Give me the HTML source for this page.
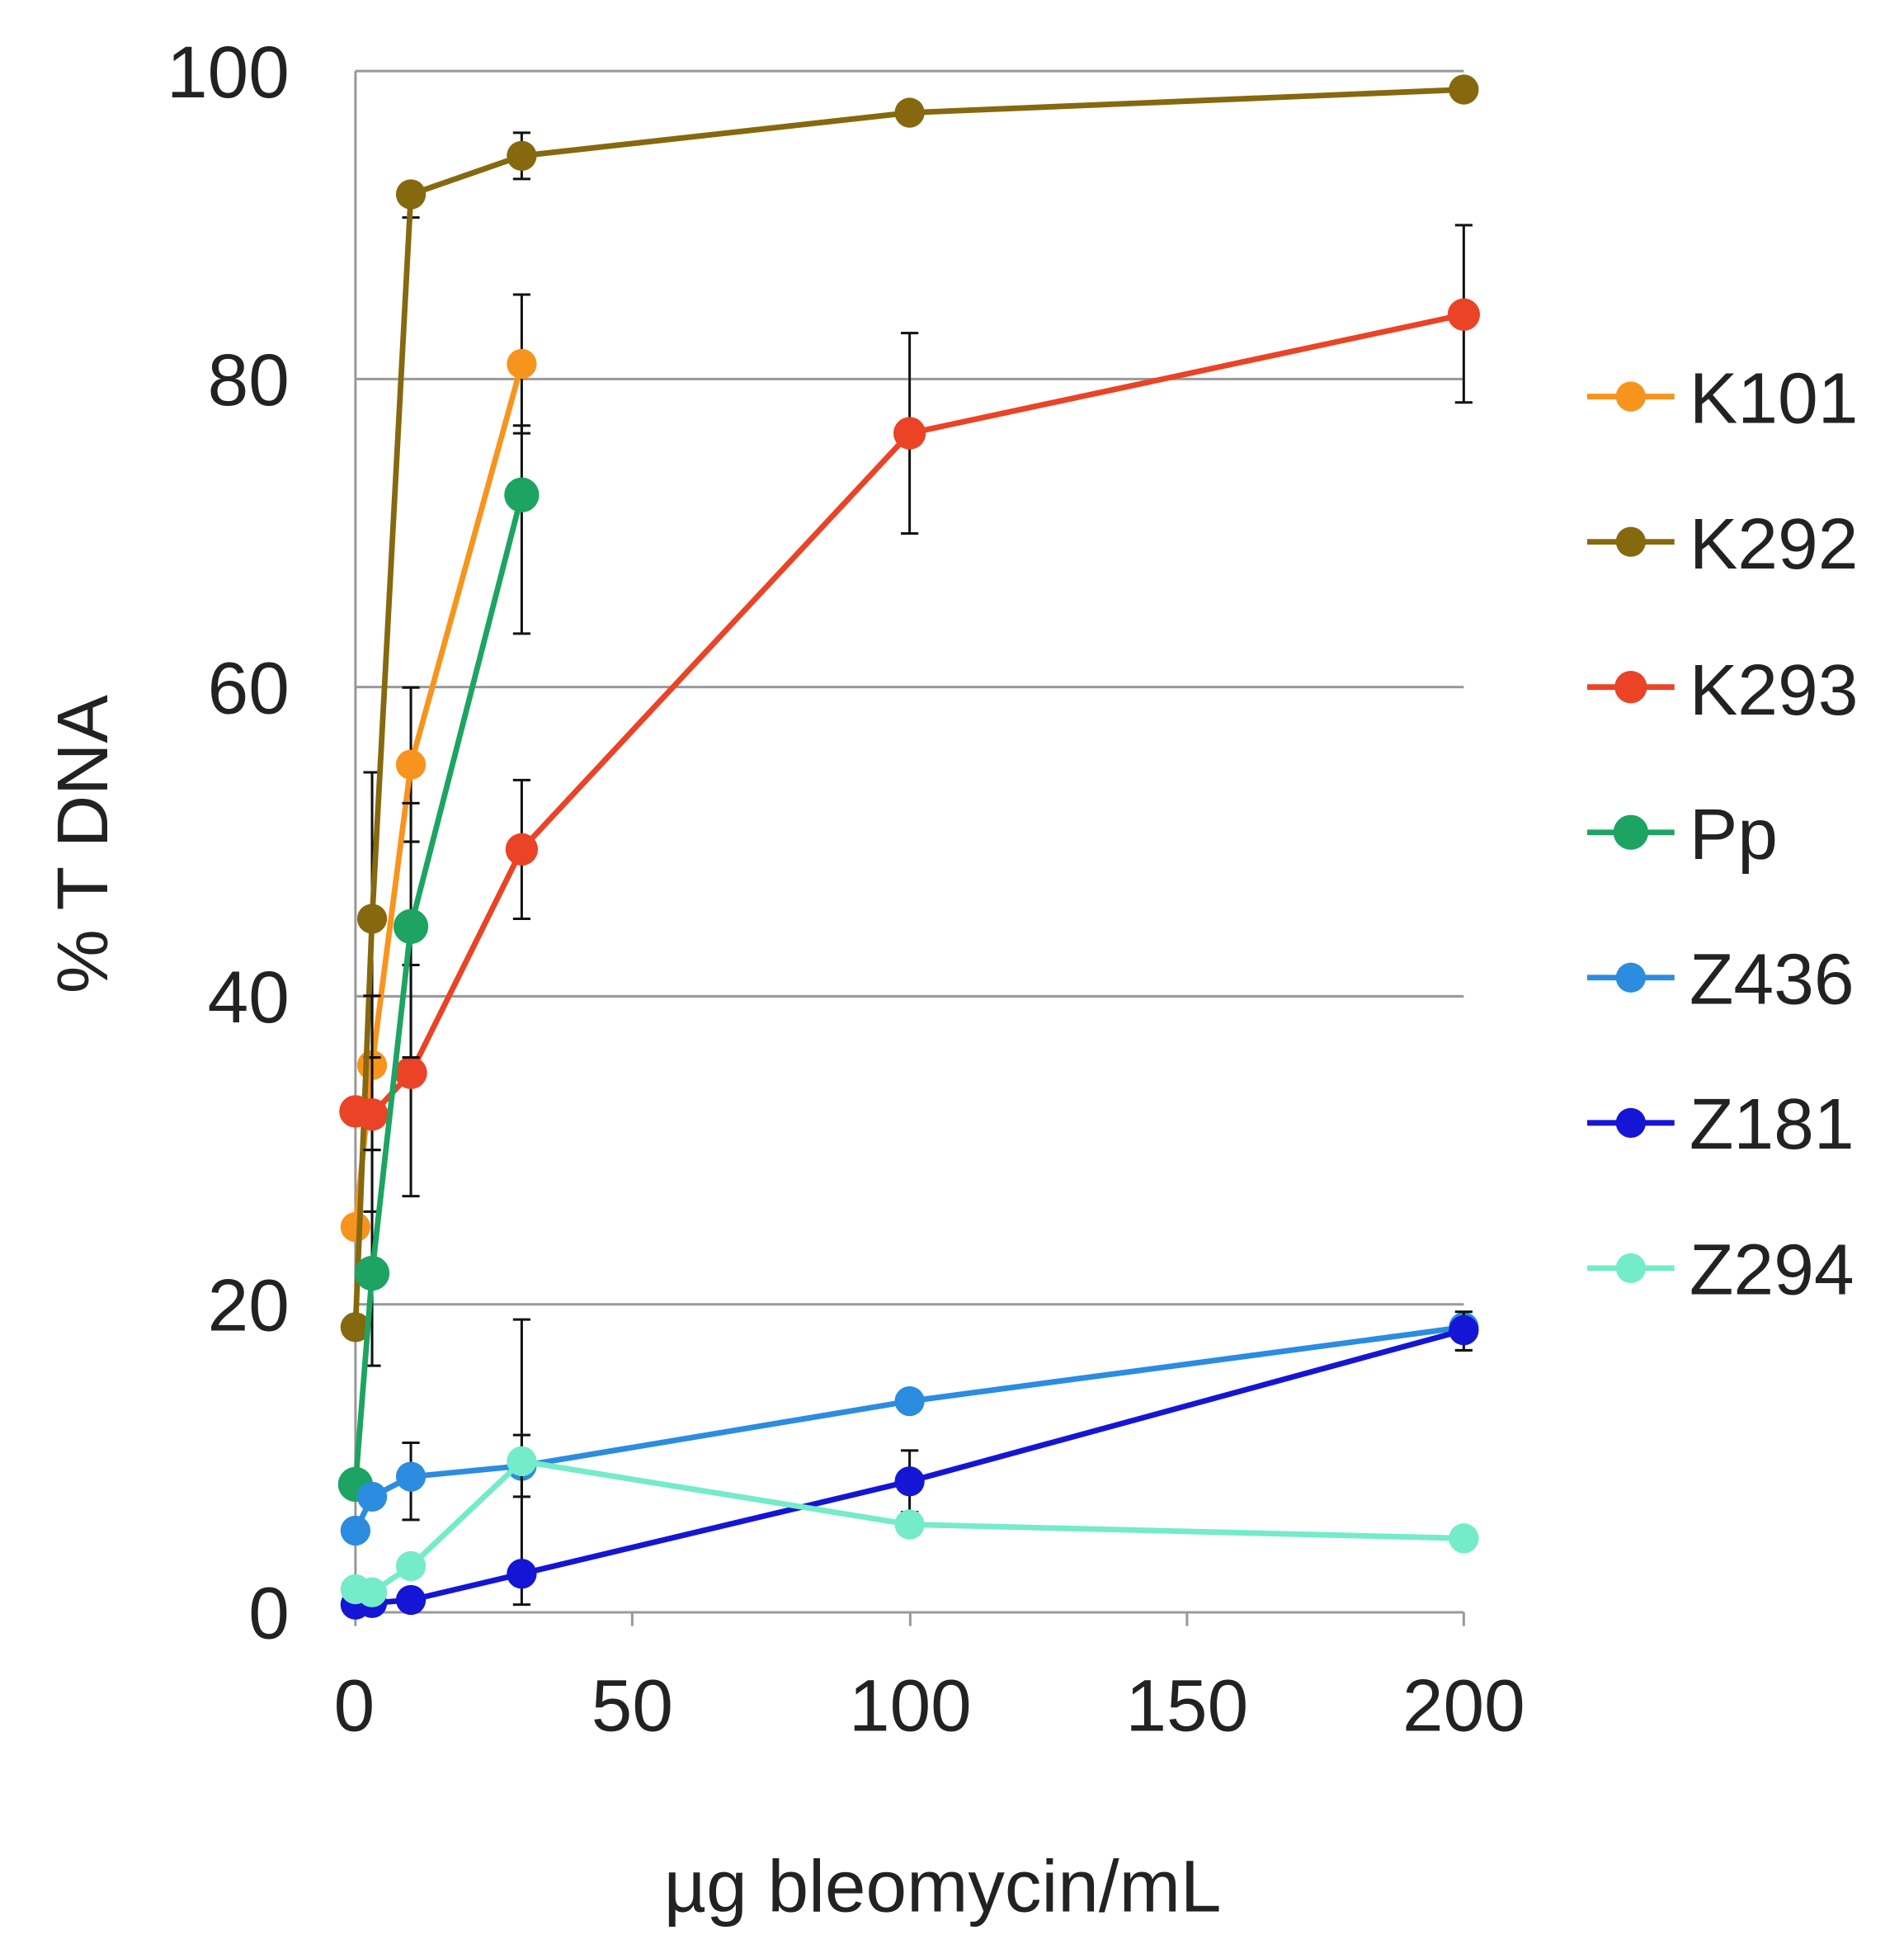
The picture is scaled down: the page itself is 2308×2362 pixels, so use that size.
<!DOCTYPE html>
<html><head><meta charset="utf-8"><style>
html,body{margin:0;padding:0;background:#fff;}
svg{display:block;}
text{font-family:"Liberation Sans",Arial,sans-serif;fill:#222;}
</style></head><body>
<svg id="s" width="2308" height="2362" viewBox="0 0 1527 1563" xmlns="http://www.w3.org/2000/svg">
<g stroke="#999" stroke-width="2">
<line x1="285" y1="57" x2="1174" y2="57"/>
<line x1="285" y1="304" x2="1174" y2="304"/>
<line x1="285" y1="551" x2="1174" y2="551"/>
<line x1="285" y1="799" x2="1174" y2="799"/>
<line x1="285" y1="1046" x2="1174" y2="1046"/>
<line x1="285" y1="1293" x2="1174" y2="1293"/>
<line x1="285" y1="57" x2="285" y2="1293"/>
<line x1="285" y1="1293" x2="285" y2="1304"/>
<line x1="507" y1="1293" x2="507" y2="1304"/>
<line x1="730" y1="1293" x2="730" y2="1304"/>
<line x1="952" y1="1293" x2="952" y2="1304"/>
<line x1="1174" y1="1293" x2="1174" y2="1304"/>
</g>
<g font-size="59" text-anchor="end">
<text x="232" y="78">100</text>
<text x="232" y="325">80</text>
<text x="232" y="572">60</text>
<text x="232" y="820">40</text>
<text x="232" y="1067">20</text>
<text x="232" y="1314">0</text>
</g>
<g font-size="59" text-anchor="middle">
<text x="284" y="1388">0</text>
<text x="507" y="1388">50</text>
<text x="730" y="1388">100</text>
<text x="952" y="1388">150</text>
<text x="1174" y="1388">200</text>
<text x="756" y="1533">µg bleomycin/mL</text>
<text transform="translate(86,677) rotate(-90)" font-size="58">% T DNA</text>
</g>
<g id="data"></g>
<g font-size="58">
<text x="1355" y="339">K101</text>
<text x="1355" y="456">K292</text>
<text x="1355" y="573">K293</text>
<text x="1355" y="689">Pp</text>
<text x="1355" y="805">Z436</text>
<text x="1355" y="921">Z181</text>
<text x="1355" y="1038">Z294</text>
</g>
<g id="leg"></g>
</svg>
<script>
const X=v=>285+v*4.445, Y=v=>1293-v*12.36;
const S=[
 {c:"#F7941D",r:12,d:[[0,25],[3,35.5],[10,55],[30,81]],e:[[10,50,60],[30,76.5,85.5],[3,30,40]]},
 {c:"#86680F",r:12,d:[[0,18.5],[3,45],[10,92],[30,94.5],[100,97.3],[200,98.8]],e:[[30,93,96],[3,36,54.5],[10,90.5,92]]},
 {c:"#EA4326",r:13,d:[[0,32.5],[3,32.3],[10,35],[30,49.5],[100,76.5],[200,84.2]],e:[[10,27,42],[30,45,54],[100,70,83],[200,78.5,90],[3,26,40]]},
 {c:"#1DA462",r:14,d:[[0,8.3],[3,22],[10,44.5],[30,72.5]],e:[[10,36,52.5],[30,63.5,77],[3,16,30]]},
 {c:"#2B8CE0",r:12,d:[[0,5.3],[3,7.5],[10,8.8],[30,9.5],[100,13.7],[200,18.5]],e:[[10,6,11]]},
 {c:"#1515D5",r:12,d:[[0,0.5],[3,0.6],[10,0.8],[30,2.5],[100,8.5],[200,18.3]],e:[[30,0.5,19],[100,6.5,10.5],[200,17,19.5]]},
 {c:"#74EBC9",r:12,d:[[0,1.5],[3,1.3],[10,3],[30,9.8],[100,5.7],[200,4.8]],e:[[30,7.5,11.5]]}
];
let h="",l="";
S.forEach((s,i)=>{
 s.e.forEach(([x,a,b])=>{h+=`<g stroke="#111" stroke-width="2"><line x1="${X(x)}" y1="${Y(a)}" x2="${X(x)}" y2="${Y(b)}"/><line x1="${X(x)-7}" y1="${Y(a)}" x2="${X(x)+7}" y2="${Y(a)}"/><line x1="${X(x)-7}" y1="${Y(b)}" x2="${X(x)+7}" y2="${Y(b)}"/></g>`;});
 h+=`<polyline fill="none" stroke="${s.c}" stroke-width="4.5" points="${s.d.map(p=>X(p[0])+","+Y(p[1])).join(" ")}"/>`;
 s.d.forEach(p=>{h+=`<circle cx="${X(p[0])}" cy="${Y(p[1])}" r="${s.r}" fill="${s.c}"/>`;});
 const y=318+i*116.5;
 l+=`<line x1="1273" y1="${y}" x2="1343" y2="${y}" stroke="${s.c}" stroke-width="4.5"/><circle cx="1308" cy="${y}" r="${s.r}" fill="${s.c}"/>`;
});
document.getElementById("data").innerHTML=h;
document.getElementById("leg").innerHTML=l;
</script>
</body></html>
